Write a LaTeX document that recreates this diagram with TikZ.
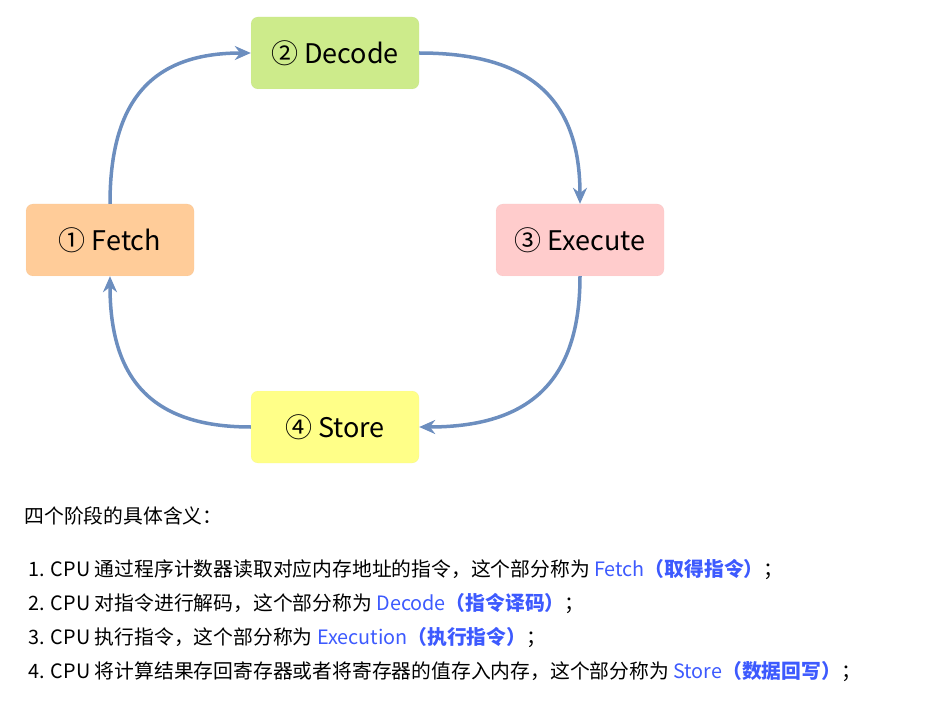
\documentclass[tikz,border=0pt]{standalone}
\usepackage{fontspec}
\setmainfont{Noto Sans CJK SC}
\usetikzlibrary{arrows.meta}
\definecolor{flowblue}{HTML}{6C8EBF}
\definecolor{linkblue}{HTML}{3D5AFE}
\newcommand{\hl}[2]{\textcolor{linkblue}{#1\textbf{#2}}}
\begin{document}
\begin{tikzpicture}[x=1pt,y=-1pt,
    stage/.style={rounded corners=7pt,minimum width=168pt,minimum height=72pt,
      font=\fontsize{27}{30}\selectfont,draw=#1!80!black,draw opacity=0.15,fill=#1},
    flow/.style={flowblue,line width=3.5pt,looseness=1.25,-{Stealth[length=16pt,width=14pt]}},
    line/.style={anchor=west,font=\fontsize{19.8}{24}\selectfont}]
  \useasboundingbox (0,0) rectangle (926,703);
  \definecolor{fetchc}{HTML}{FFCC99}
  \definecolor{decodec}{HTML}{CDEB8B}
  \definecolor{executec}{HTML}{FFCCCC}
  \definecolor{storec}{HTML}{FFFF88}
  \node[stage=decodec] (decode) at (335,53) {② Decode};
  \node[stage=fetchc] (fetch) at (110,240) {① Fetch};
  \node[stage=executec] (execute) at (580,240) {③ Execute};
  \node[stage=storec] (store) at (335,427) {④ Store};

  \draw[flow] (fetch.north) to[out=90,in=180] (decode.west);
  \draw[flow] (decode.east) to[out=0,in=90] (execute.north);
  \draw[flow] (execute.south) to[out=-90,in=0] (store.east);
  \draw[flow] (store.west) to[out=180,in=-90] (fetch.south);

  \node[line] (title) at (21,516) {四个阶段的具体含义：};
  \node[line] (l1) at (25,570) {1. CPU 通过程序计数器读取对应内存地址的指令，这个部分称为 \hl{Fetch}{（取得指令）}；};
  \node[line] (l2) at (25,604) {2. CPU 对指令进行解码，这个部分称为 \hl{Decode}{（指令译码）}；};
  \node[line] (l3) at (25,638) {3. CPU 执行指令，这个部分称为 \hl{Execution}{（执行指令）}；};
  \node[line] (l4) at (25,672) {4. CPU 将计算结果存回寄存器或者将寄存器的值存入内存，这个部分称为 \hl{Store}{（数据回写）}；};
\end{tikzpicture}
\end{document}
